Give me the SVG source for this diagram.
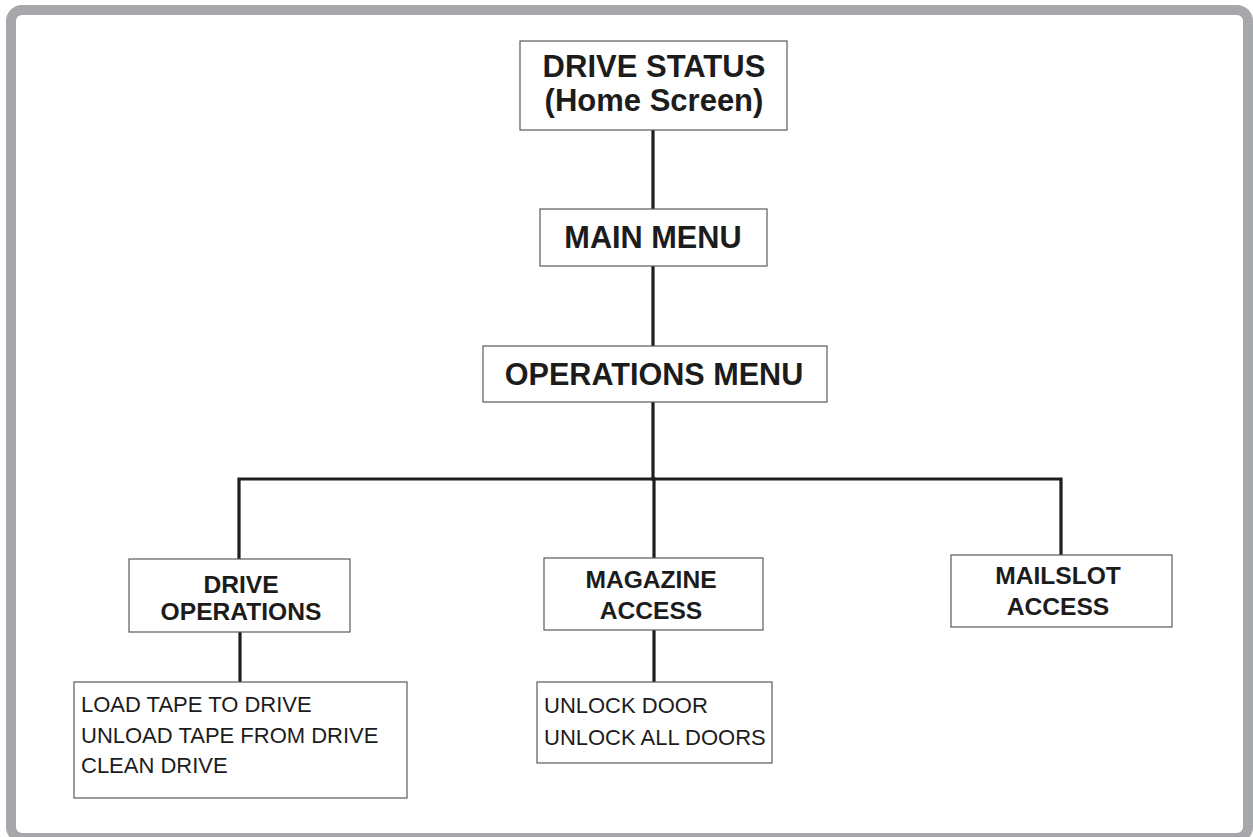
<svg xmlns="http://www.w3.org/2000/svg" width="1253" height="837" viewBox="0 0 1253 837">
  <style>
    .box { fill: #ffffff; stroke: #5a5a5a; stroke-width: 1.2; }
    .head { font-family: "Liberation Sans", Arial, sans-serif; font-weight: bold; fill: #1c1c1c; text-anchor: middle; }
    .sub { font-size: 24.6px; }
    .item { font-family: "Liberation Sans", Arial, sans-serif; font-size: 22px; fill: #1c1c1c; }
    .wire { fill: none; stroke: #1e1e1e; stroke-width: 3.2; stroke-linecap: square; }
  </style>

  <!-- page background and grey frame -->
  <rect x="0" y="0" width="1253" height="837" fill="#ffffff"/>
  <rect x="11" y="10" width="1237" height="828" rx="11" fill="#ffffff" stroke="#a7a8ab" stroke-width="10"/>

  <!-- connectors -->
  <g id="connectors">
    <line class="wire" x1="653" y1="130" x2="653" y2="209"/>
    <line class="wire" x1="653" y1="266" x2="653" y2="346"/>
    <line class="wire" x1="653" y1="402" x2="653" y2="479"/>
    <polyline class="wire" points="239,559 239,479 1061,479 1061,555"/>
    <line class="wire" x1="654" y1="479" x2="654" y2="558"/>
    <line class="wire" x1="240" y1="632" x2="240" y2="682"/>
    <line class="wire" x1="654" y1="630" x2="654" y2="682"/>
  </g>

  <g id="drive-status">
    <rect class="box" x="520" y="41" width="267" height="89"/>
    <text class="head" x="654" y="77" font-size="31">DRIVE STATUS</text>
    <text class="head" x="654" y="111" font-size="31">(Home Screen)</text>
  </g>

  <g id="main-menu">
    <rect class="box" x="540" y="209" width="227" height="57"/>
    <text class="head" x="653" y="248" font-size="30.7">MAIN MENU</text>
  </g>

  <g id="operations-menu">
    <rect class="box" x="483" y="346" width="344" height="56"/>
    <text class="head" x="654" y="385" font-size="30.6">OPERATIONS MENU</text>
  </g>

  <g id="drive-operations">
    <rect class="box" x="129" y="559" width="221" height="73"/>
    <text class="head sub" x="241" y="593">DRIVE</text>
    <text class="head sub" x="241" y="620">OPERATIONS</text>
  </g>

  <g id="magazine-access">
    <rect class="box" x="544" y="558" width="219" height="72"/>
    <text class="head sub" x="651" y="588">MAGAZINE</text>
    <text class="head sub" x="651" y="619">ACCESS</text>
  </g>

  <g id="mailslot-access">
    <rect class="box" x="951" y="555" width="221" height="72"/>
    <text class="head sub" x="1058" y="584">MAILSLOT</text>
    <text class="head sub" x="1058" y="615">ACCESS</text>
  </g>

  <g id="drive-operations-list">
    <rect class="box" x="74" y="682" width="333" height="116"/>
    <text class="item" x="81" y="712">LOAD TAPE TO DRIVE</text>
    <text class="item" x="81" y="743">UNLOAD TAPE FROM DRIVE</text>
    <text class="item" x="81" y="773">CLEAN DRIVE</text>
  </g>

  <g id="magazine-access-list">
    <rect class="box" x="537" y="682" width="235" height="81"/>
    <text class="item" x="544" y="713">UNLOCK DOOR</text>
    <text class="item" x="544" y="745">UNLOCK ALL DOORS</text>
  </g>
</svg>
